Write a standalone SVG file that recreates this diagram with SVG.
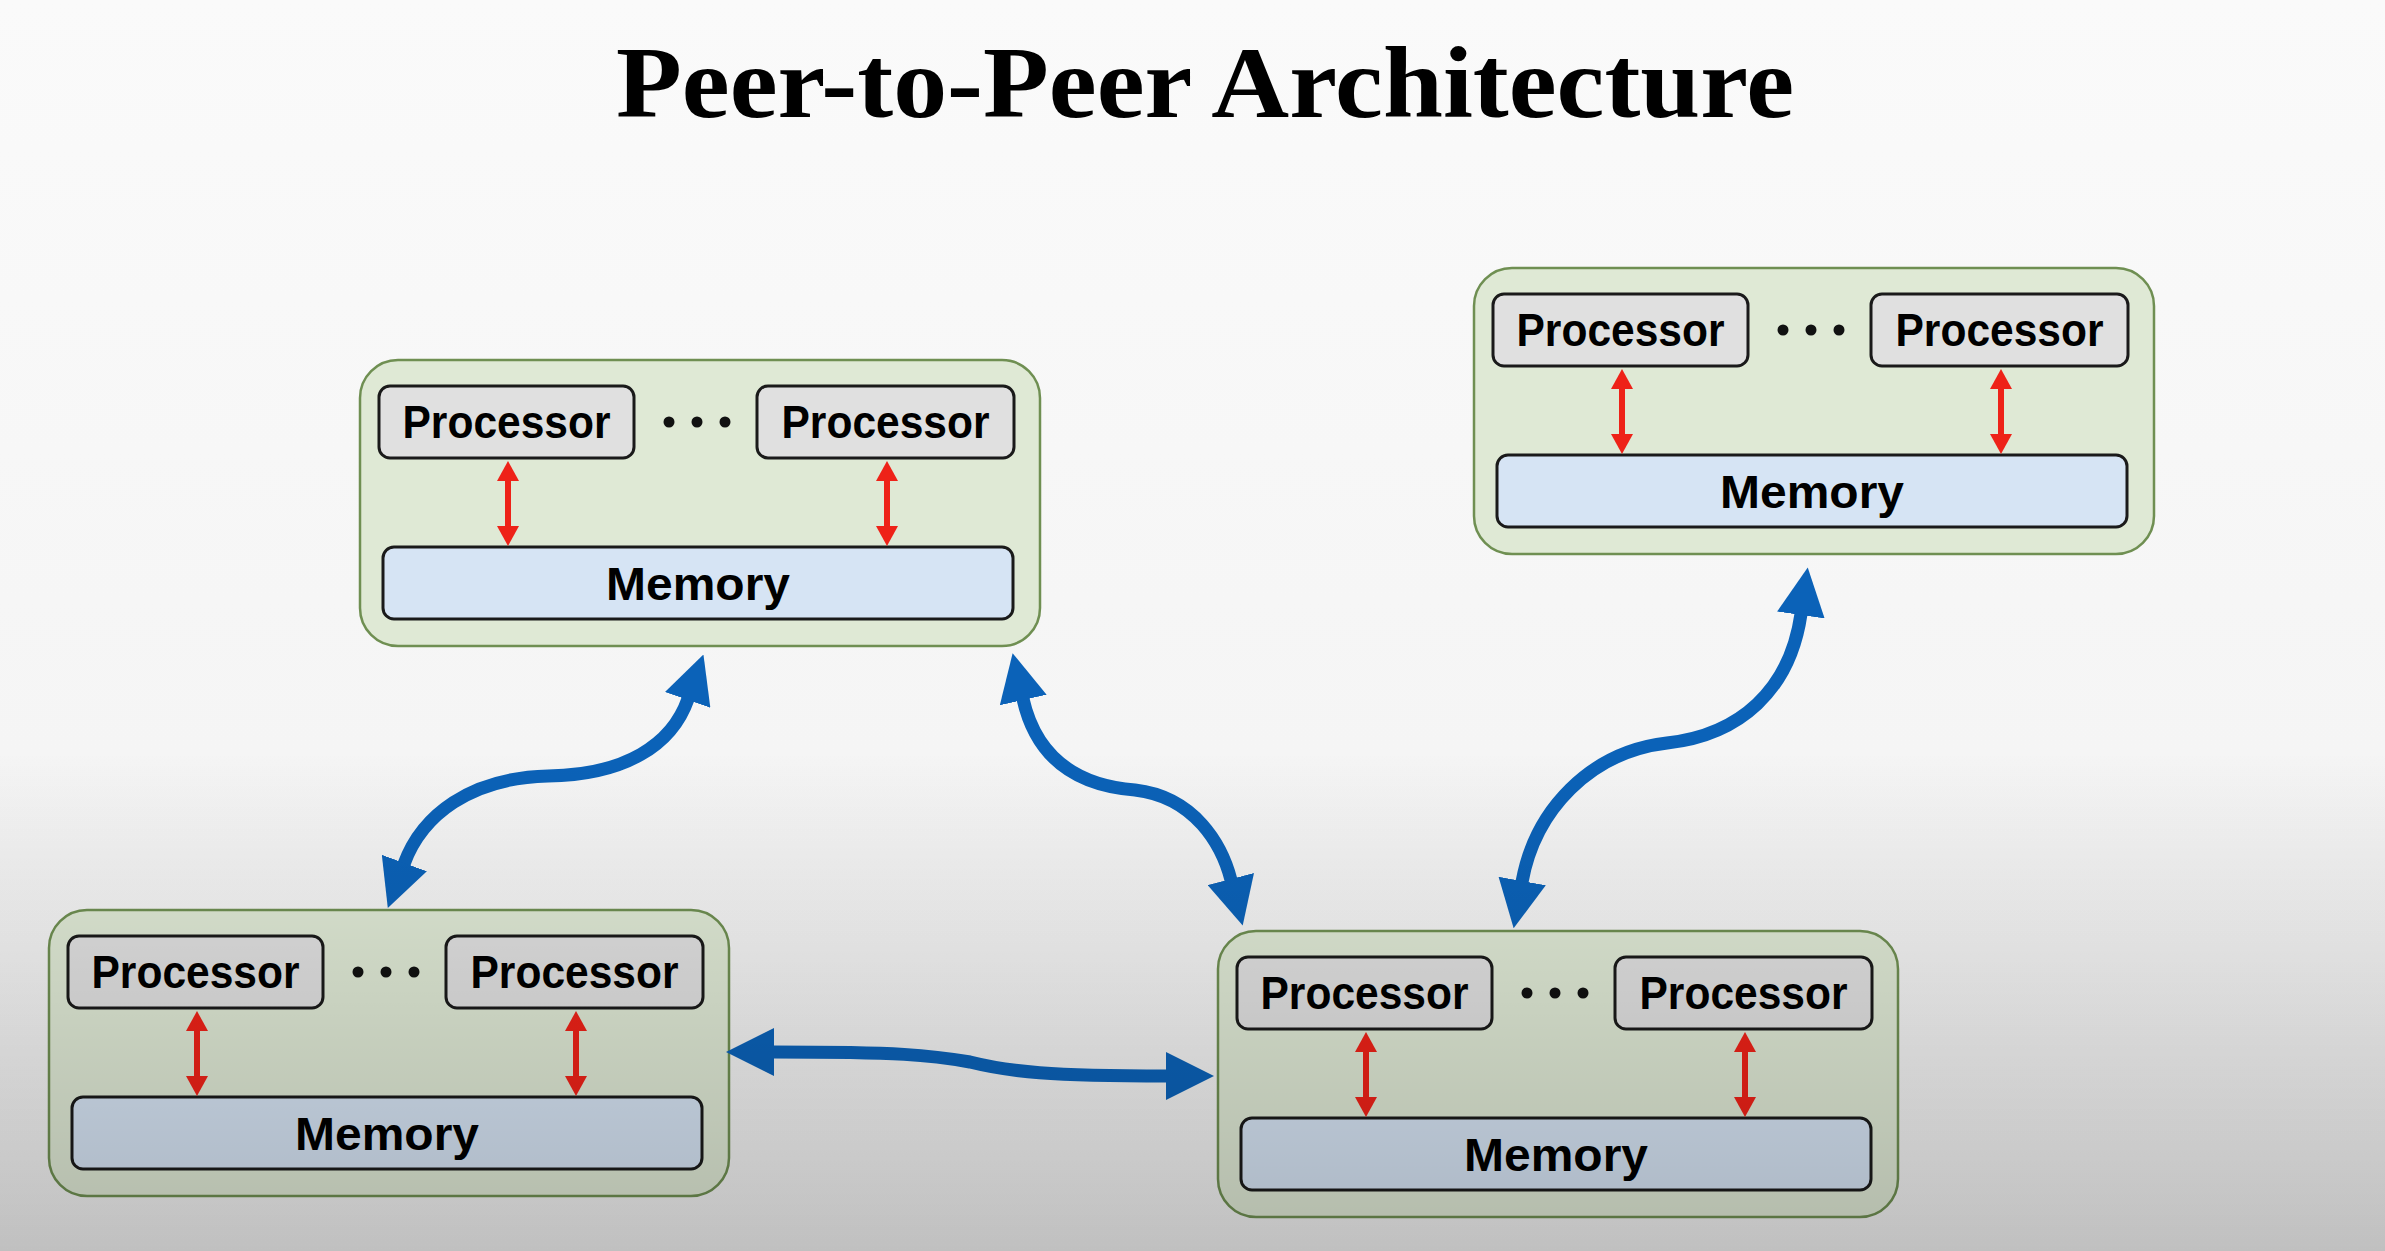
<svg xmlns="http://www.w3.org/2000/svg" width="2385" height="1251" viewBox="0 0 2385 1251">
<style>
.title{font-family:"Liberation Serif","Times New Roman",serif;font-weight:bold;font-size:101px;fill:#000}
.outer{fill:#dfe9d5;stroke:#6f8f52;stroke-width:2.5}
.proc{fill:#e0e0e0;stroke:#1a1a1a;stroke-width:3}
.mem{fill:#d6e4f4;stroke:#1a1a1a;stroke-width:3}
.lbl{font-family:"Liberation Sans",Arial,sans-serif;font-weight:bold;font-size:47px;fill:#000;text-anchor:middle}
.dot{fill:#111}
.blue{fill:none;stroke:#0b62b8;stroke-width:13;marker-start:url(#bh);marker-end:url(#bh)}
.red{fill:none;stroke:#ee2218;stroke-width:6;marker-start:url(#rh);marker-end:url(#rh)}
</style>
<defs>
<linearGradient id="bg" x1="0" y1="0" x2="0" y2="1">
<stop offset="0" stop-color="#fafafa"/>
<stop offset="0.6" stop-color="#f5f5f5"/>
<stop offset="1" stop-color="#f0f0f0"/>
</linearGradient>
<linearGradient id="shade" x1="0" y1="0" x2="0" y2="1251" gradientUnits="userSpaceOnUse">
<stop offset="0.6" stop-color="#000" stop-opacity="0"/>
<stop offset="1" stop-color="#000" stop-opacity="0.2"/>
</linearGradient>
<marker id="bh" viewBox="0 0 48 48" refX="1" refY="24" markerWidth="48" markerHeight="48" markerUnits="userSpaceOnUse" orient="auto-start-reverse">
<path d="M0,0 L48,24 L0,48 Z" fill="#0b62b8"/>
</marker>
<marker id="rh" viewBox="0 0 20 22" refX="1" refY="11" markerWidth="20" markerHeight="22" markerUnits="userSpaceOnUse" orient="auto-start-reverse">
<path d="M0,0 L20,11 L0,22 Z" fill="#ee2218"/>
</marker>
<g id="nodeT">
<rect class="outer" x="0" y="0" width="680" height="286" rx="38"/>
<rect class="proc" x="19" y="26" width="255" height="72" rx="11"/>
<rect class="proc" x="397" y="26" width="257" height="72" rx="11"/>
<text class="lbl" x="146.5" y="78" textLength="208" lengthAdjust="spacingAndGlyphs">Processor</text>
<text class="lbl" x="525.5" y="78" textLength="208" lengthAdjust="spacingAndGlyphs">Processor</text>
<circle class="dot" cx="309" cy="62" r="5.5"/>
<circle class="dot" cx="337" cy="62" r="5.5"/>
<circle class="dot" cx="365" cy="62" r="5.5"/>
<rect class="mem" x="23" y="187" width="630" height="72" rx="11"/>
<text class="lbl" x="338" y="240" textLength="184" lengthAdjust="spacingAndGlyphs">Memory</text>
</g>
</defs>
<rect x="0" y="0" width="2385" height="1251" fill="url(#bg)"/>
<text class="title" x="1205" y="117" text-anchor="middle" textLength="1178" lengthAdjust="spacingAndGlyphs">Peer-to-Peer Architecture</text>
<g id="node-top-left"><use href="#nodeT" x="360" y="360"/></g>
<g id="node-top-right"><use href="#nodeT" x="1474" y="268"/></g>
<g id="node-bottom-left"><use href="#nodeT" x="49" y="910"/></g>
<g id="node-bottom-right"><use href="#nodeT" x="1218" y="931"/></g>
<g id="connectors">
<path class="blue" d="M688,699 C672,745 625,775 548,776 C470,778 422,815 404,864"/>
<path class="blue" d="M1023,699 C1035,752 1070,785 1135,790 C1195,797 1222,845 1231,880"/>
<path class="blue" d="M773,1052 C900,1052 930,1055 970,1062 C1010,1072 1050,1076 1167,1076"/>
<path class="blue" d="M1522,882 C1535,810 1590,752 1667,743 C1740,735 1790,690 1801,614"/>
<path class="red" d="M508,480 V527"/>
<path class="red" d="M887,480 V527"/>
<path class="red" d="M1622,388 V435"/>
<path class="red" d="M2001,388 V435"/>
<path class="red" d="M197,1030 V1077"/>
<path class="red" d="M576,1030 V1077"/>
<path class="red" d="M1366,1051 V1098"/>
<path class="red" d="M1745,1051 V1098"/>
</g>
<rect x="0" y="0" width="2385" height="1251" fill="url(#shade)" pointer-events="none"/>
</svg>
